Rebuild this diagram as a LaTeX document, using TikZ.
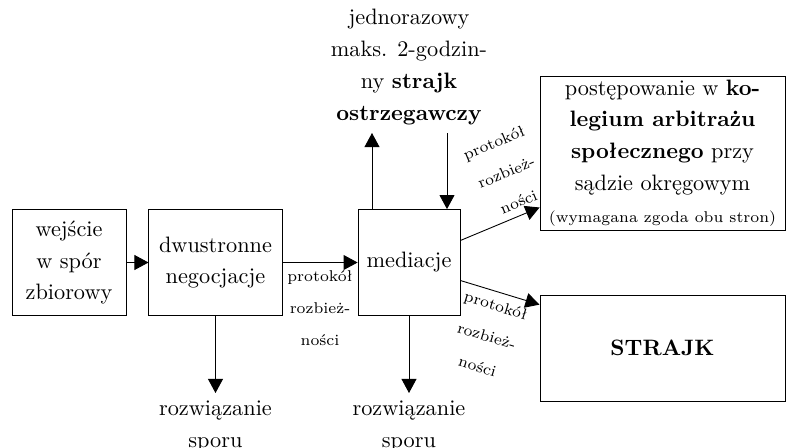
\documentclass[tikz,border=0pt]{standalone}
\usetikzlibrary{arrows.meta,calc}
\newcommand\mainfs{\fontsize{10}{14.3}\selectfont}
\newcommand\smallfs{\fontsize{7}{14.3}\selectfont}
\begin{document}
\begin{tikzpicture}[x=0.4485pt,y=-0.4485pt,
  box/.style={draw, align=center, inner sep=0pt, font=\mainfs},
  txt/.style={align=center, font=\mainfs},
  lbl/.style={align=center, font=\smallfs},
  arr/.style={-{Triangle[length=6.3pt,width=6.7pt]}}]
\useasboundingbox (0,0) rectangle (786,448);
\node[box, minimum width=51.1pt, minimum height=47.5pt] (b1) at (69,262.5) {wejście\\w spór\\zbiorowy};
\node[box, minimum width=59.7pt, minimum height=47.5pt] (b2) at (215.5,262.5) {dwustronne\\negocjacje};
\node[box, minimum width=45.7pt, minimum height=47.5pt] (b3) at (409,262.5) {mediacje};
\node[box, minimum width=109.9pt, minimum height=69.1pt] (b4) at (662.5,153) {postępowanie w \textbf{ko-}\\\textbf{legium arbitrażu}\\\textbf{społecznego} przy\\sądzie okręgowym\\{\smallfs (wymagana zgoda obu stron)}};
\node[box, minimum width=109.9pt, minimum height=47.5pt] (b5) at (662.5,348) {\textbf{STRAJK}};
\node[txt, anchor=south] (warn) at (409,133) {jednorazowy\\maks. 2-godzin-\\ny \textbf{strajk}\\\textbf{ostrzegawczy}};
\node[txt, anchor=north] (r2) at (215.5,393) {rozwiązanie\\sporu};
\node[txt, anchor=north] (r3) at (409,393) {rozwiązanie\\sporu};
\draw[arr] (b1) -- (b2);
\draw[arr] (b2) -- (b3) node[lbl, below, midway] {protokół\\rozbież-\\ności};
\draw[arr] (b2.south) -- (r2.north);
\draw[arr] (b3.south) -- (r3.north);
\draw[arr] ($(b3.north)+(-37,0)$) -- ($(warn.south)+(-37,0)$);
\draw[arr] ($(warn.south)+(38,0)$) -- ($(b3.north)+(38,0)$);
\draw[arr] ($(b3.east)+(0,-22)$) -- ($(b4.south west)+(0,-23)$) node[lbl, sloped, above, pos=0.8] {protokół\\rozbież-\\ności};
\draw[arr] ($(b3.east)+(0,18)$) -- ($(b5.north west)+(0,10)$) node[lbl, sloped, below, pos=0.5] {protokół\\rozbież-\\ności};
\end{tikzpicture}
\end{document}
